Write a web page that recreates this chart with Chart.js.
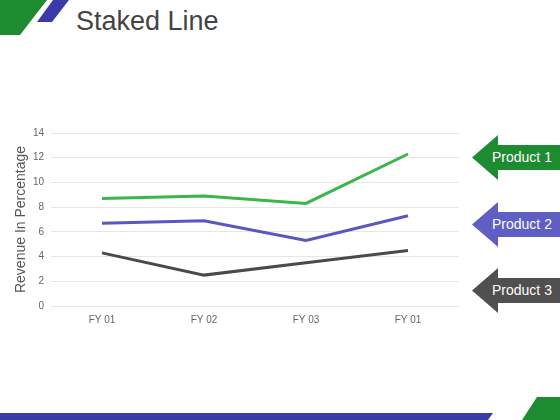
<!DOCTYPE html>
<html>
<head>
<meta charset="utf-8">
<script src="https://cdn.jsdelivr.net/npm/chart.js@4"></script>
<style>
  body { margin: 0; background: #fff; font-family: "Liberation Sans", Arial, sans-serif; }
  #page { position: relative; width: 560px; height: 420px; overflow: hidden; }
  #wrap { position: absolute; left: 0; top: 0; width: 560px; height: 420px; }
  .deco { position: absolute; }
  .title { position: absolute; left: 76px; top: 6px; font-size: 27px; color: #444; }
  .arrow { position: absolute; left: 472px; width: 88px; height: 45px;
    clip-path: polygon(0 50%, 26px 0, 26px 10px, 100% 10px, 100% 35px, 26px 35px, 26px 100%); }
  .arrow span { position: absolute; left: 20px; top: 0; line-height: 45px; font-size: 14px; color: #fff; }
</style>
</head>
<body>
<div id="page">
  <div class="deco" style="left:0;top:0;width:48px;height:35px;background:#1d8b2f;clip-path:polygon(0 0,47px 0,20px 35px,0 35px);"></div>
  <div class="deco" style="left:36px;top:0;width:34px;height:23px;background:#3a3aa8;clip-path:polygon(17px 0,33px 0,16px 22px,1px 22px);"></div>
  <div class="deco" style="left:0;top:413px;width:494px;height:7px;background:#3a3ca6;clip-path:polygon(0 0,493px 0,488px 7px,0 7px);"></div>
  <div class="deco" style="left:520px;top:397px;width:40px;height:23px;background:#1d8b2f;clip-path:polygon(17px 0,40px 0,40px 23px,2px 23px);"></div>
  <div class="title">Staked Line</div>
  <div id="wrap"><canvas id="chart"></canvas></div>
  <div class="arrow" id="arrow-0" style="top:135px;background:#1d8b2f;"><span></span></div>
  <div class="arrow" id="arrow-1" style="top:202px;background:#5e5ec4;"><span></span></div>
  <div class="arrow" id="arrow-2" style="top:268px;background:#505050;"><span></span></div>
</div>
<script>
const categories = ['FY 01', 'FY 02', 'FY 03', 'FY 01'];
const seriesNames = ['Product 1', 'Product 2', 'Product 3'];
const product1 = [8.7, 8.9, 8.3, 12.3];
const product2 = [6.7, 6.9, 5.3, 7.3];
const product3 = [4.3, 2.5, 3.5, 4.5];
const lineColors = ['#3cb54a', '#5b57c0', '#4a4a4a'];

const seriesValues = [product1, product2, product3];

const datasets = [];
for (let i = 0; i < seriesValues.length; i++) {
  datasets.push({
    label: seriesNames[i],
    data: seriesValues[i],
    borderColor: lineColors[i],
    backgroundColor: lineColors[i],
    borderWidth: 3,
    pointRadius: 0,
    tension: 0,
  });
  document.querySelector(`#arrow-${i} span`).textContent = seriesNames[i];
}

const config = {
  type: 'line',
  data: { labels: categories, datasets: datasets },
  options: {
    responsive: true,
    maintainAspectRatio: false,
    animation: false,
    layout: { padding: { left: 0, right: 101, top: 133, bottom: 84 } },
    plugins: {
      legend: { display: false },
      tooltip: { enabled: false },
    },
    scales: {
      x: {
        offset: true,
        grid: { display: false },
        border: { display: false },
        ticks: { color: '#666', font: { size: 10, family: 'Liberation Sans' }, padding: 0 },
        afterFit: (scale) => { scale.height = 30; },
      },
      y: {
        min: 0,
        max: 14,
        ticks: { stepSize: 2, color: '#666', font: { size: 10, family: 'Liberation Sans' }, padding: 7 },
        grid: { color: '#e6e6e6', drawTicks: false },
        border: { display: false },
        title: {
          display: true,
          text: 'Revenue In Percentage',
          color: '#555',
          font: { size: 14, family: 'Liberation Sans' },
          padding: { top: 13, bottom: 0 },
        },
        afterFit: (scale) => { scale.width = 51; },
      },
    },
  },
};

const myChart = new Chart(document.getElementById('chart'), config);
</script>
</body>
</html>
